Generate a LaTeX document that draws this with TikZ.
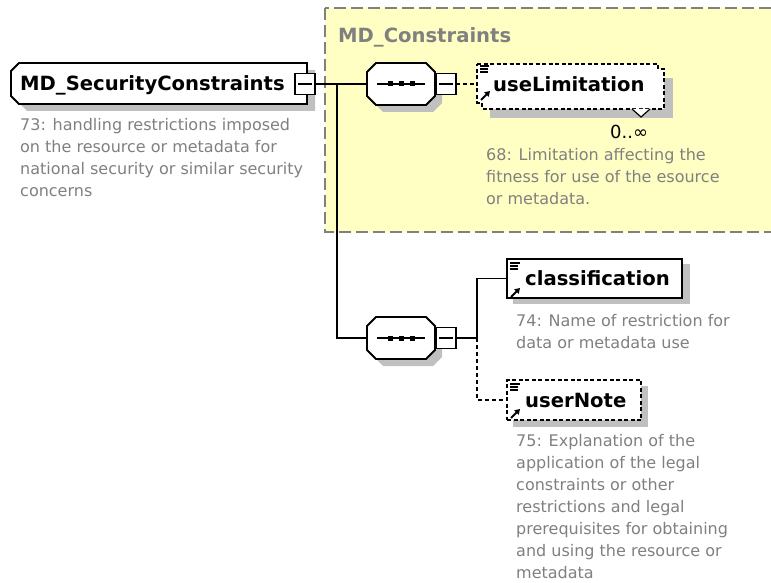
\documentclass[tikz,border=0pt]{standalone}
\usepackage{fontspec}
\setmainfont{DejaVu Sans}
\usetikzlibrary{arrows.meta}
\definecolor{descgray}{RGB}{128,128,128}
\definecolor{shadowgray}{RGB}{192,192,192}
\definecolor{groupyellow}{RGB}{255,255,196}
\definecolor{groupborder}{RGB}{128,128,128}
\newcommand{\octopath}[5]{(#1+#5,#2) -- (#3-#5,#2) -- (#3,#2+#5) -- (#3,#4-#5) -- (#3-#5,#4) -- (#1+#5,#4) -- (#1,#4-#5) -- (#1,#2+#5) -- cycle}
\begin{document}
\begin{tikzpicture}[x=1pt,y=-1pt,
  outline/.style={draw=black, line width=1.8pt, fill=white, line join=miter},
  optoutline/.style={outline, line width=1.6pt, dash pattern=on 4pt off 2.5pt},
  shadowfill/.style={fill=shadowgray, draw=none},
  anchorbox/.style={draw=none, fill=none, inner sep=0pt, outer sep=0pt, rectangle},
  elembox/.style={rectangle, draw=black, line width=2pt, fill=white, inner sep=0pt, outer sep=0pt},
  optelembox/.style={elembox, line width=1.6pt, dash pattern=on 4pt off 2.5pt},
  titletext/.style={font=\bfseries\fontsize{19.6}{23}\selectfont, inner sep=0pt, anchor=base west},
  desctext/.style={font=\fontsize{16}{22}\selectfont, text=descgray, align=left, inner sep=0pt, anchor=north west},
  multtext/.style={font=\fontsize{18}{20}\selectfont, inner sep=0pt, anchor=base west},
  conn/.style={line width=1.8pt},
  optconn/.style={line width=1.8pt, dash pattern=on 4pt off 3pt},
  minusbox/.style={rectangle, draw=black, line width=1.7pt, fill=white, minimum width=20pt, minimum height=21pt, inner sep=0pt, outer sep=0pt},
  minusline/.style={line width=1.5pt},
  seqline/.style={line width=1.5pt},
  seqdot/.style={rectangle, fill=black, minimum size=5pt, inner sep=0pt},
  iconline/.style={line width=1.1pt},
  iconarrow/.style={line width=1.8pt, -{Triangle[length=5pt,width=6pt]}},
]
\useasboundingbox (0,0) rectangle (771,583);
\clip (0,0) rectangle (771,583);

% group MD_Constraints
\filldraw[fill=groupyellow, draw=groupborder, line width=2pt, dash pattern=on 12pt off 5pt] (325,8) rectangle (800,232);
\node[titletext, text=descgray] (grptitle) at (338,43) {MD\_Constraints};

% main element
\fill[shadowfill] (27,70) -- (315,70) -- (315,111) -- (27,111) -- (19,103) -- (19,78) -- cycle;
\draw[outline] (19,63) -- (307,63) -- (307,104) -- (19,104) -- (11,96) -- (11,71) -- cycle;
\node[anchorbox, minimum width=296pt, minimum height=41pt] (main) at (159,83.5) {};
\node[titletext] (maintitle) at (20,90.5) {MD\_SecurityConstraints};
\node[minusbox] (mainminus) at (305,84) {};
\draw[minusline] ([xshift=3pt]mainminus.west) -- ([xshift=-3pt]mainminus.east);
\node[desctext] (maindesc) at (20,118) {73: handling restrictions imposed\\on the resource or metadata for\\national security or similar security\\concerns};

% sequence A
\fill[shadowfill] \octopath{374}{70}{442}{112}{9};
\draw[outline] \octopath{367}{63}{435}{105}{9};
\node[anchorbox, minimum width=68pt, minimum height=42pt] (seqA) at (401,84) {};
\draw[seqline] ([xshift=10pt]seqA.west) -- ([xshift=-10pt]seqA.east);
\node[seqdot] (seqAd1) at ([xshift=-11pt]seqA.center) {};
\node[seqdot] (seqAd2) at (seqA.center) {};
\node[seqdot] (seqAd3) at ([xshift=11pt]seqA.center) {};
\node[minusbox] (seqAminus) at (446,84) {};
\draw[minusline] ([xshift=3pt]seqAminus.west) -- ([xshift=-3pt]seqAminus.east);

% useLimitation
\fill[shadowfill] (490,78) rectangle (673,118);
\draw[optoutline] (477,64) -- (658,64) -- (658,69) -- (664,69) -- (664,109) -- (482,109) -- (482,103) -- (477,103) -- cycle;
\node[anchorbox, minimum width=181pt, minimum height=39pt] (useLim) at (567.5,83.5) {};
\node[titletext] (useLimtxt) at (493,92) {useLimitation};
\draw[iconline] (480,66) -- (489,66) (480,69) -- (488,69) (480,72) -- (488,72);
\draw[iconarrow] (481,100) -- (490,91);
\draw[line width=1.2pt, fill=white] (632,109) -- (641,117) -- (650,109);
\node[multtext] (useLimmult) at (610,139) {0..∞};
\node[desctext] (useLimdesc) at (486,148) {68: Limitation affecting the\\fitness for use of the esource\\or metadata.};

% connectors top
\coordinate (j1) at (337,84);
\draw[conn] (mainminus.east) -- (seqA.west);
\draw[optconn] (seqAminus.east) -- (seqAminus.east -| useLim.west);

% sequence B
\fill[shadowfill] \octopath{374}{324}{442}{366}{9};
\draw[outline] \octopath{367}{317}{435}{359}{9};
\node[anchorbox, minimum width=68pt, minimum height=42pt] (seqB) at (401,338) {};
\draw[seqline] ([xshift=10pt]seqB.west) -- ([xshift=-10pt]seqB.east);
\node[seqdot] (seqBd1) at ([xshift=-11pt]seqB.center) {};
\node[seqdot] (seqBd2) at (seqB.center) {};
\node[seqdot] (seqBd3) at ([xshift=11pt]seqB.center) {};
\node[minusbox] (seqBminus) at (446,338) {};
\draw[minusline] ([xshift=3pt]seqBminus.west) -- ([xshift=-3pt]seqBminus.east);
\draw[conn] (j1) |- (seqB.west);

% classification
\fill[shadowfill] (513,264) rectangle (690,304);
\node[elembox, minimum width=175pt, minimum height=39pt] (cls) at (594.5,278.5) {};
\node[titletext] (clstxt) at (525,285) {classification};
\draw[iconline] (510,263) -- (520,263) (510,266) -- (518,266) (510,269) -- (518,269);
\draw[iconarrow] (511,297) -- (520,288);
\node[desctext] (clsdesc) at (516,314.5) {74: Name of restriction for\\data or metadata use};

% userNote
\fill[shadowfill] (513,386) rectangle (648,427);
\node[optelembox, minimum width=134pt, minimum height=40pt] (un) at (574,400) {};
\node[titletext] (untxt) at (525,407) {userNote};
\draw[iconline] (510,384) -- (520,384) (510,387) -- (518,387) (510,390) -- (518,390);
\draw[iconarrow] (511,418) -- (520,409);
\node[desctext] (undesc) at (516,434) {75: Explanation of the\\application of the legal\\constraints or other\\restrictions and legal\\prerequisites for obtaining\\and using the resource or\\metadata};

% connectors bottom
\coordinate (j2) at (477,338);
\draw[conn] (seqBminus.east) -- (j2) |- (cls.west);
\draw[optconn] (j2) |- (un.west);
\end{tikzpicture}
\end{document}
